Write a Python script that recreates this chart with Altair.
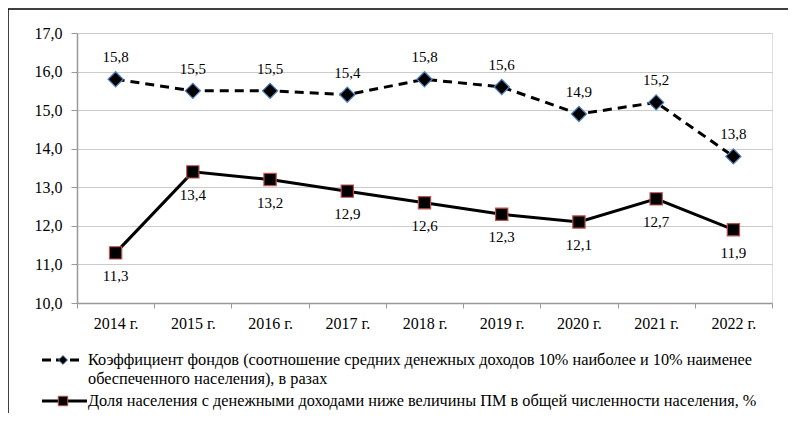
import altair as alt
import pandas as pd

years = ["2014 г.", "2015 г.", "2016 г.", "2017 г.", "2018 г.", "2019 г.", "2020 г.", "2021 г.", "2022 г."]
coef = [15.8, 15.5, 15.5, 15.4, 15.8, 15.6, 14.9, 15.2, 13.8]
share = [11.3, 13.4, 13.2, 12.9, 12.6, 12.3, 12.1, 12.7, 11.9]
legend1_line1 = "Коэффициент фондов (соотношение средних денежных доходов 10% наиболее и 10% наименее"
legend1_line2 = "обеспеченного населения), в разах"
legend2 = "Доля населения с денежными доходами ниже величины ПМ в общей численности населения, %"

FONT = "Liberation Serif"

df1 = pd.DataFrame({"year": years, "v": coef})
df2 = pd.DataFrame({"year": years, "v": share})
df1["lbl"] = [f"{v:.1f}".replace(".", ",") for v in coef]
df2["lbl"] = [f"{v:.1f}".replace(".", ",") for v in share]

x = alt.X("year:N", sort=years, title=None,
          scale=alt.Scale(paddingInner=0, paddingOuter=0),
          axis=alt.Axis(labelAngle=0, labelFont=FONT, labelFontSize=16, labelColor="black",
                        labelPadding=7, tickBand="extent", domainColor="#999999", tickColor="#999999",
                        tickSize=5, grid=False, domainWidth=1.5))
y = alt.Y("v:Q", title=None,
          scale=alt.Scale(domain=[10, 17], nice=False, zero=False),
          axis=alt.Axis(values=[10, 11, 12, 13, 14, 15, 16, 17],
                        labelExpr="replace(format(datum.value, '.1f'), '.', ',')",
                        labelFont=FONT, labelFontSize=16, labelColor="black", labelPadding=9,
                        domainColor="#999999", tickColor="#999999", tickSize=6, domainWidth=1.5,
                        gridColor="#cccccc", gridWidth=1.2))

base1 = alt.Chart(df1).encode(x=x, y=y)
base2 = alt.Chart(df2).encode(x=x, y=y)

line1 = base1.mark_line(color="black", strokeWidth=3, strokeDash=[9, 6])
pts1 = base1.mark_point(shape="diamond", size=230, filled=True, color="black",
                        stroke="#4f81bd", strokeWidth=1.2, opacity=1)
txt1 = base1.mark_text(dy=-22, font=FONT, fontSize=15, color="black").encode(text="lbl:N")

line2 = base2.mark_line(color="black", strokeWidth=3)
pts2 = base2.mark_point(shape="square", size=150, filled=True, color="black",
                        stroke="#c0504d", strokeWidth=1.2, opacity=1)
txt2 = base2.mark_text(dy=23, font=FONT, fontSize=15, color="black").encode(text="lbl:N")

one = pd.DataFrame({"a": [0]})
border_left = alt.Chart(one).mark_rule(color="black", strokeWidth=1.5).encode(
    x=alt.value(-69), y=alt.value(-24), y2=alt.value(400))
border_top = alt.Chart(one).mark_rule(color="black", strokeWidth=1.5).encode(
    x=alt.value(-69), x2=alt.value(711), y=alt.value(-24))

leg1_rule = alt.Chart(one).mark_rule(color="black", strokeWidth=3, strokeDash=[9, 5]).encode(
    x=alt.value(-35), x2=alt.value(5), y=alt.value(327))
leg1_pt = alt.Chart(one).mark_point(shape="diamond", size=80, filled=True, color="black",
                                    stroke="#4f81bd", strokeWidth=1, opacity=1).encode(
    x=alt.value(-14), y=alt.value(327))
leg1_t1 = alt.Chart(one).mark_text(align="left", baseline="middle", font=FONT, fontSize=16.3, color="black").encode(
    x=alt.value(11), y=alt.value(327), text=alt.value(legend1_line1))
leg1_t2 = alt.Chart(one).mark_text(align="left", baseline="middle", font=FONT, fontSize=16.3, color="black").encode(
    x=alt.value(11), y=alt.value(346), text=alt.value(legend1_line2))
leg2_rule = alt.Chart(one).mark_rule(color="black", strokeWidth=3).encode(
    x=alt.value(-35), x2=alt.value(10), y=alt.value(368))
leg2_pt = alt.Chart(one).mark_point(shape="square", size=90, filled=True, color="black",
                                    stroke="#c0504d", strokeWidth=1, opacity=1).encode(
    x=alt.value(-14), y=alt.value(368))
leg2_t = alt.Chart(one).mark_text(align="left", baseline="middle", font=FONT, fontSize=16.3, color="black").encode(
    x=alt.value(11), y=alt.value(368), text=alt.value(legend2))

chart = alt.layer(
    line1, line2, pts1, pts2, txt1, txt2,
    border_left, border_top, leg1_rule, leg1_pt, leg1_t1, leg1_t2, leg2_rule, leg2_pt, leg2_t
).properties(
    width=695, height=270,
    autosize=alt.AutoSizeParams(type="none"),
    padding={"left": 69, "top": 25, "right": 16, "bottom": 110},
).configure_view(stroke=None).configure(background="white")

chart.save("out.html", embed_options={"renderer": "svg", "actions": False})
